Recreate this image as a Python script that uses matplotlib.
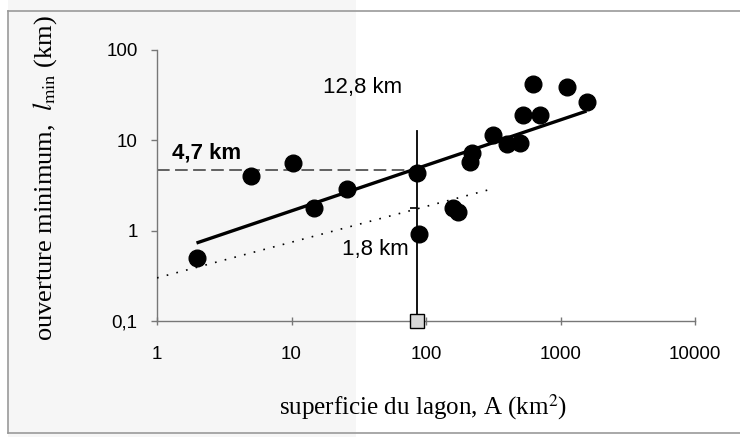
import matplotlib
matplotlib.use("Agg")
import matplotlib.pyplot as plt
from matplotlib.lines import Line2D
from matplotlib.patches import Rectangle

# --- data ---
area = [2.0, 5.0, 10.2, 14.8, 26, 86, 88, 159, 173, 220, 212, 316, 400, 500, 527, 705, 625, 1117, 1574]
lmin = [0.5, 4.0, 5.6, 1.8, 2.9, 4.4, 0.93, 1.8, 1.6, 7.2, 5.8, 11.6, 9.0, 9.3, 19.3, 19.3, 42, 39, 26.8]

fit_x = [2.02, 1520]
fit_y = [0.74, 20.8]
low_x = [1, 310]
low_y = [0.3, 2.9]

a_crit = 86
l_crit = 4.7
l_top = 12.8
l_low = 1.8

xticks = [1, 10, 100, 1000, 10000]
xticklabels = ["1", "10", "100", "1000", "10000"]
yticks = [0.1, 1, 10, 100]
yticklabels = ["0,1", "1", "10", "100"]

plt.rcParams['mathtext.fontset'] = 'stix'

fig = plt.figure(figsize=(7.4, 4.37), dpi=100)
fig.patch.set_facecolor('white')
# scanned page tint on the left side
fig.add_artist(Rectangle((8/740, 0), (356-8)/740, 1, transform=fig.transFigure,
                         facecolor='#f6f6f6', edgecolor='none', zorder=-10))
# page frame
for xs, ys in [([8/740, 8/740], [4/437, 1-11/437]),
               ([8/740, 1], [1-11/437, 1-11/437]),
               ([8/740, 1], [4/437, 4/437])]:
    fig.add_artist(Line2D(xs, ys, transform=fig.transFigure, color='#9a9a9a', lw=1.2))

ax = fig.add_axes([157/740, 1-321/437, (695-157)/740, (321-50)/437])
ax.patch.set_alpha(0)
ax.set_xscale('log')
ax.set_yscale('log')
ax.set_xlim(1, 10000)
ax.set_ylim(0.1, 100)

for s in ['top', 'right']:
    ax.spines[s].set_visible(False)
for s in ['left', 'bottom']:
    ax.spines[s].set_color('#777777')
    ax.spines[s].set_linewidth(1.0)

ax.set_xticks(xticks)
ax.set_xticklabels(xticklabels)
ax.set_yticks(yticks)
ax.set_yticklabels(yticklabels)
ax.minorticks_off()
ax.tick_params(axis='both', colors='#777777', labelcolor='black', length=4, width=1,
               labelsize=13.5)
for lab in ax.get_xticklabels() + ax.get_yticklabels():
    lab.set_fontfamily('Liberation Sans')
ax.tick_params(axis='x', pad=15, direction='inout', length=6)
ax.tick_params(axis='y', pad=10, direction='out')

# reference lines
ax.plot([1, a_crit], [l_crit, l_crit], color='#555555', lw=1.3, dashes=(7, 3), zorder=2)
ax.plot([a_crit, a_crit], [0.1, l_top], color='black', lw=1.3, zorder=2)
ax.plot(fit_x, fit_y, color='black', lw=2.4, zorder=3)
ax.plot(low_x, low_y, color='black', lw=1.2, linestyle=(0, (1, 5)), zorder=3)
ax.plot([a_crit], [l_low], marker=0, color='black', markersize=5, mew=1.2, zorder=4)

ax.plot(area, lmin, 'o', color='black', markersize=12, zorder=5, clip_on=False)
ax.plot([a_crit], [0.1], 's', markersize=10, markerfacecolor='#d8d8d8',
        markeredgecolor='black', mew=1.0, zorder=6, clip_on=False)

fig.text(323/740, 1-88/437, "12,8 km", fontsize=16, family='Liberation Sans', va='center', ha='left')
fig.text(172/740, 1-153/437, "4,7 km", fontsize=16, family='Liberation Sans',
         fontweight='bold', va='center', ha='left')
fig.text(342/740, 1-250/437, "1,8 km", fontsize=16, family='Liberation Sans', va='center', ha='left')

ax.set_xlabel("superficie du lagon, A (km$^2$)", fontsize=18, family='Liberation Serif')
ax.set_ylabel("ouverture minimum,  $l_{\\mathrm{min}}$ (km)", fontsize=19, family='Liberation Serif')
ax.xaxis.set_label_coords(0.494, -0.317)
ax.yaxis.set_label_coords(-0.208, 0.527)
ax.xaxis.label.set_va('center')
ax.yaxis.label.set_va('center')

fig.savefig("out.png", dpi=100)
